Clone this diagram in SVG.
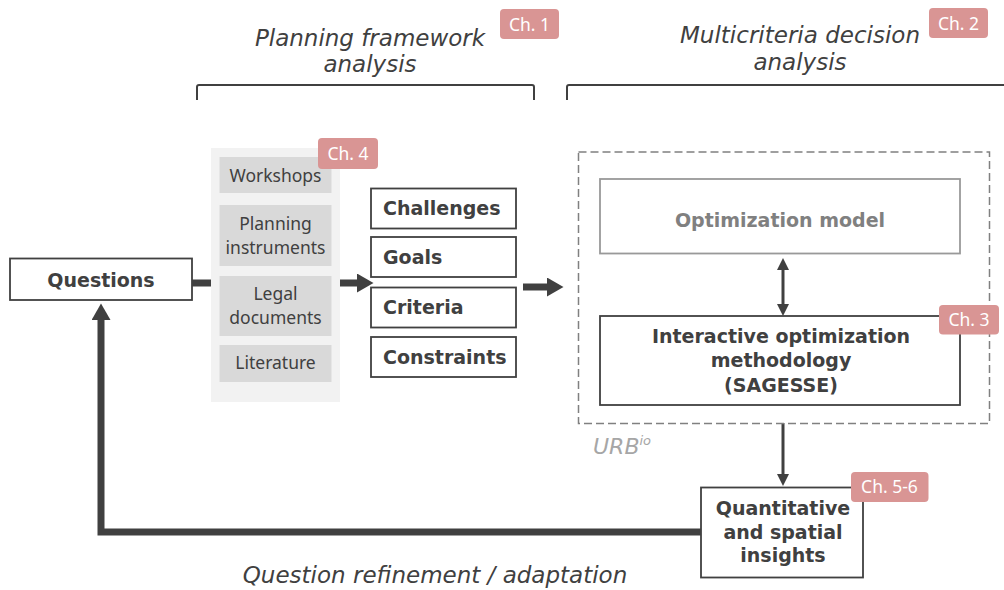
<svg xmlns="http://www.w3.org/2000/svg" width="1004" height="590" viewBox="0 0 1004 590">
  <style>
    .title { font-family: "DejaVu Sans", "Liberation Sans", sans-serif; font-style: italic; font-size: 23px; fill: #404040; text-anchor: middle; }
    .bold { font-family: "DejaVu Sans", "Liberation Sans", sans-serif; font-weight: bold; font-size: 19px; fill: #404040; }
    .src { font-family: "Noto Sans", "Liberation Sans", sans-serif; font-size: 17.5px; fill: #404040; text-anchor: middle; }
    .badge rect { fill: #d99594; }
    .badge text { font-family: "Noto Sans", "Liberation Sans", sans-serif; font-size: 17.5px; fill: #ffffff; text-anchor: middle; }
    .box { fill: #ffffff; stroke: #404040; stroke-width: 1.8; }
    .srcbox { fill: #d9d9d9; }
    .bracket { fill: none; stroke: #404040; stroke-width: 2; stroke-linejoin: round; }
    .thick { stroke: #404040; stroke-width: 7; fill: none; }
    .thin { stroke: #404040; stroke-width: 3; fill: none; }
  </style>
  <defs>
    <marker id="headThick" markerUnits="userSpaceOnUse" markerWidth="17" markerHeight="20" refX="0" refY="9.5" orient="auto">
      <path d="M0,0 L16.5,9.5 L0,19 z" fill="#404040"/>
    </marker>
    <marker id="headThin" markerUnits="userSpaceOnUse" markerWidth="13" markerHeight="13" refX="0" refY="6" orient="auto-start-reverse">
      <path d="M0,0 L12,6 L0,12 z" fill="#404040"/>
    </marker>
  </defs>

  <rect width="1004" height="590" fill="#ffffff"/>

  <!-- section headings with brackets -->
  <g id="heading-planning">
    <text class="title" x="370" y="46">Planning framework</text>
    <text class="title" x="370" y="72">analysis</text>
    <path class="bracket" d="M197,100 V87 Q197,85 199,85 H532 Q534,85 534,87 V100"/>
    <g class="badge"><rect x="500" y="9" width="59" height="30" rx="4"/><text x="529.5" y="30.5">Ch. 1</text></g>
  </g>
  <g id="heading-mcda">
    <text class="title" x="800" y="43">Multicriteria decision</text>
    <text class="title" x="800" y="70">analysis</text>
    <path class="bracket" d="M567,100 V87 Q567,85 569,85 H1006"/>
    <g class="badge"><rect x="929" y="8" width="59" height="30" rx="4"/><text x="958.5" y="29.5">Ch. 2</text></g>
  </g>

  <!-- connectors -->
  <g id="connectors">
    <line class="thick" x1="192" y1="283" x2="357" y2="283" marker-end="url(#headThick)"/>
    <line class="thick" x1="523" y1="287" x2="547" y2="287" marker-end="url(#headThick)"/>
    <line class="thin" x1="783" y1="270" x2="783" y2="304" marker-start="url(#headThin)" marker-end="url(#headThin)"/>
    <line class="thin" x1="783" y1="423" x2="783" y2="474" marker-end="url(#headThin)"/>
    <path class="thick" d="M701,532 H101 V320" marker-end="url(#headThick)"/>
  </g>

  <g id="questions">
    <rect class="box" x="10" y="258.5" width="182" height="41.5"/>
    <text class="bold" x="101" y="287" text-anchor="middle">Questions</text>
  </g>

  <g id="sources">
    <rect x="211" y="148" width="129" height="254" fill="#f2f2f2"/>
    <rect class="srcbox" x="219.5" y="157" width="112" height="36"/>
    <text class="src" x="275.5" y="181.5">Workshops</text>
    <rect class="srcbox" x="219.5" y="205" width="112" height="61"/>
    <text class="src" x="275.5" y="230">Planning</text>
    <text class="src" x="275.5" y="254">instruments</text>
    <rect class="srcbox" x="219.5" y="276" width="112" height="60"/>
    <text class="src" x="275.5" y="300">Legal</text>
    <text class="src" x="275.5" y="324">documents</text>
    <rect class="srcbox" x="219.5" y="345" width="112" height="37"/>
    <text class="src" x="275.5" y="369">Literature</text>
    <g class="badge"><rect x="318" y="138" width="60" height="31" rx="4"/><text x="348" y="160">Ch. 4</text></g>
  </g>

  <g id="challenges">
    <rect class="box" x="371" y="188.5" width="145" height="40"/>
    <text class="bold" x="383" y="215">Challenges</text>
  </g>
  <g id="goals">
    <rect class="box" x="371" y="237" width="145" height="40"/>
    <text class="bold" x="383" y="263.5">Goals</text>
  </g>
  <g id="criteria">
    <rect class="box" x="371" y="287.5" width="145" height="40"/>
    <text class="bold" x="383" y="314">Criteria</text>
  </g>
  <g id="constraints">
    <rect class="box" x="371" y="337" width="145" height="40"/>
    <text class="bold" x="383" y="364">Constraints</text>
  </g>

  <g id="urbio">
    <rect x="578.5" y="152" width="411" height="271.5" fill="none" stroke="#808080" stroke-width="1.5" stroke-dasharray="8 4"/>
    <text x="593" y="454" font-family="DejaVu Sans, Liberation Sans, sans-serif" font-style="italic" font-size="22" fill="#a6a6a6">URB<tspan font-size="13" dy="-9">io</tspan></text>
  </g>

  <g id="optimization-model">
    <rect x="600" y="179" width="360" height="74.5" fill="#ffffff" stroke="#999999" stroke-width="1.8"/>
    <text class="bold" x="780" y="227" text-anchor="middle" style="fill:#808080">Optimization model</text>
  </g>

  <g id="sagesse">
    <rect class="box" x="600" y="316" width="360" height="89"/>
    <text class="bold" x="781" y="343" text-anchor="middle">Interactive optimization</text>
    <text class="bold" x="781" y="366.5" text-anchor="middle">methodology</text>
    <text class="bold" x="781" y="391.5" text-anchor="middle">(SAGESSE)</text>
    <g class="badge"><rect x="939" y="305" width="60" height="29.5" rx="4"/><text x="969" y="326">Ch. 3</text></g>
  </g>

  <g id="insights">
    <rect class="box" x="701" y="487.5" width="162" height="90"/>
    <text class="bold" x="783" y="514.5" text-anchor="middle">Quantitative</text>
    <text class="bold" x="783" y="538.5" text-anchor="middle">and spatial</text>
    <text class="bold" x="783" y="562" text-anchor="middle">insights</text>
    <g class="badge"><rect x="851" y="472" width="77.5" height="30" rx="4"/><text x="889.5" y="493">Ch. 5-6</text></g>
  </g>

  <text id="refinement-label" class="title" x="435" y="583">Question refinement / adaptation</text>
</svg>
